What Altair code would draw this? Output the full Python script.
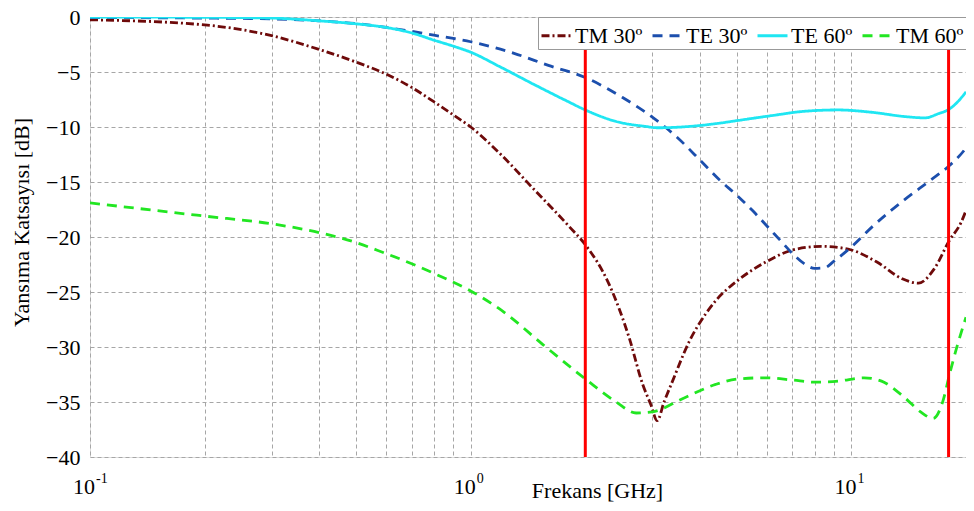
import altair as alt
import pandas as pd

# ---- data ----
series_names = ["TM 30º", "TE 30º", "TE 60º", "TM 60º"]
series_colors = ["#6e0a0a", "#1c4fad", "#1fe6f2", "#22e622"]
series_dashes = [[8, 3, 2, 3], [10, 7], [1, 0], [10, 7]]

tm30_f = [0.1, 0.2, 0.3, 0.4, 0.5, 0.6, 0.7, 0.8, 0.9, 1.0, 1.2, 1.46, 1.82, 2.0,
          2.31, 2.61, 2.83, 2.97, 3.09, 3.22, 3.39, 3.75, 4.14, 4.4, 5.05, 5.94, 6.98,
          8.36, 9.8, 11.7, 13.6, 15.0, 16.5, 18.1, 19.4, 20.0]
tm30_db = [-0.25, -0.72, -1.7, -2.95, -4.1, -5.2, -6.4, -7.7, -8.9, -10.0, -12.5, -15.6,
           -19.1, -20.7, -24.3, -29.2, -33.4, -35.2, -36.7, -35.0, -33.1, -29.5, -27.0, -25.8,
           -23.9, -22.3, -21.2, -20.85, -21.1, -22.3, -23.8, -24.2, -22.9, -20.3, -18.7, -17.6]

te30_f = [0.1, 0.2, 0.3, 0.4, 0.5, 0.6, 0.7, 0.8, 0.9, 1.0, 1.3, 1.6, 2.0, 2.5, 3.0, 3.5,
          4.0, 4.5, 5.0, 5.5, 6.0, 6.5, 7.0, 7.5, 8.0, 8.5, 9.0, 10.0, 11.4, 13.8, 16.2, 18.1,
          19.8, 20.0]
te30_db = [-0.05, -0.1, -0.18, -0.35, -0.6, -0.95, -1.3, -1.65, -1.95, -2.25, -3.3, -4.4,
           -5.5, -7.3, -9.1, -11.0, -13.0, -14.8, -16.2, -17.6, -19.0, -20.3, -21.5, -22.4,
           -22.85, -22.8, -22.2, -20.9, -19.0, -16.6, -14.8, -13.5, -12.1, -11.9]

te60_f = [0.1, 0.2, 0.3, 0.4, 0.5, 0.6, 0.7, 0.8, 0.9, 1.0, 1.19, 1.46, 1.78, 2.0, 2.41, 2.88,
          3.1, 3.75, 4.4, 5.05, 6.19, 7.54, 9.23, 11.3, 13.8, 15.6, 16.9, 18.1, 19.8, 20.0]
te60_db = [0.0, -0.03, -0.1, -0.35, -0.62, -0.95, -1.45, -2.1, -2.65, -3.2, -4.5, -6.1, -7.6,
           -8.45, -9.5, -9.95, -10.07, -9.95, -9.7, -9.4, -8.96, -8.57, -8.45, -8.66, -9.05,
           -9.17, -8.8, -8.36, -7.0, -6.8]

tm60_f = [0.1, 0.2, 0.3, 0.4, 0.5, 0.568, 0.708, 0.8, 1.0, 1.22, 1.55, 2.0, 2.41, 2.72, 3.0,
          3.6, 4.4, 5.05, 5.94, 6.98, 8.03, 9.23, 10.8, 12.0, 13.8, 15.2, 16.4, 17.4, 18.1,
          19.0, 20.0]
tm60_db = [-16.9, -18.1, -18.8, -19.6, -20.5, -21.2, -22.5, -23.3, -24.9, -26.8, -29.8, -32.9,
           -35.0, -36.0, -35.9, -34.7, -33.4, -32.9, -32.8, -33.0, -33.2, -33.1, -32.8, -33.1,
           -34.6, -35.9, -36.5, -34.9, -32.5, -29.8, -27.3]

band_edges = [2.0, 18.0]

x_grid = [0.1, 0.2, 0.3, 0.4, 0.5, 0.6, 0.7, 0.8, 0.9,
          1, 2, 3, 4, 5, 6, 7, 8, 9, 10, 20]
x_label_pos = [0.1, 1, 10]
x_label_base = ["10", "10", "10"]
x_label_exp = ["-1", "0", "1"]
y_ticks = [-40, -35, -30, -25, -20, -15, -10, -5, 0]

# ---- build tables ----
rows = []
for name, fs, vs in zip(series_names,
                        [tm30_f, te30_f, te60_f, tm60_f],
                        [tm30_db, te30_db, te60_db, tm60_db]):
    for i, (f, v) in enumerate(zip(fs, vs)):
        rows.append({"series": name, "f": f, "db": v, "i": i})
df = pd.DataFrame(rows)
rules = pd.DataFrame({"f": band_edges})
labels_df = pd.DataFrame({"f": x_label_pos, "base": x_label_base, "exp": x_label_exp})

FONT = "Liberation Serif"
GRID = "#a6a6a6"
W, H = 876, 440

xscale = alt.Scale(type="log", domain=[0.1, 20], nice=False)

x_axis = alt.Axis(
    values=x_grid, labels=False,
    grid=True, gridDash=[4, 3], gridColor=GRID, gridWidth=1,
    ticks=False, tickSize=0, domain=False,
    title="Frekans [GHz]", titleFont=FONT, titleFontSize=22, titleFontWeight="normal",
    titleColor="black", titleX=507, titleY=40, titleBaseline="alphabetic", titleAlign="center",
)
y_axis = alt.Axis(
    values=y_ticks,
    grid=True, gridDash=[4, 3], gridColor=GRID, gridWidth=1,
    ticks=False, tickSize=0, domain=False,
    labelFont=FONT, labelFontSize=22, labelColor="black", labelPadding=10,
    labelFlush=False, labelOverlap=False,
    title="Yansıma Katsayısı [dB]", titleFont=FONT, titleFontSize=22, titleFontWeight="normal",
    titleColor="black", titleX=-62, titleY=205, titleBaseline="alphabetic", titleAlign="center",
    titleAngle=270,
)

legend = alt.Legend(
    orient="top-right", direction="horizontal", columns=4, title=None,
    labelFont=FONT, labelFontSize=22, labelColor="black", labelOffset=2,
    symbolType="stroke", symbolSize=900, symbolStrokeWidth=3,
    fillColor="white", strokeColor="#999999", padding=2, offset=0,
    columnPadding=3, labelLimit=200,
)

lines = alt.Chart(df).mark_line(strokeWidth=2.8, interpolate="monotone", clip=True).encode(
    x=alt.X("f:Q", scale=xscale, axis=x_axis),
    y=alt.Y("db:Q", scale=alt.Scale(domain=[-40, 0], nice=False), axis=y_axis),
    color=alt.Color("series:N", scale=alt.Scale(domain=series_names, range=series_colors),
                    legend=legend),
    strokeDash=alt.StrokeDash("series:N", scale=alt.Scale(domain=series_names, range=series_dashes),
                              legend=legend),
    order="i:Q",
)

red = alt.Chart(rules).mark_rule(color="#ff0000", strokeWidth=3).encode(x=alt.X("f:Q", scale=xscale))

base_lbl = alt.Chart(labels_df).mark_text(
    align="right", baseline="alphabetic", dx=5, font=FONT, fontSize=22, color="black"
).encode(x=alt.X("f:Q", scale=xscale), y=alt.value(H + 37), text="base:N")

exp_lbl = alt.Chart(labels_df).mark_text(
    align="left", baseline="alphabetic", dx=6, font=FONT, fontSize=14, color="black"
).encode(x=alt.X("f:Q", scale=xscale), y=alt.value(H + 26), text="exp:N")

chart = alt.layer(lines, red, base_lbl, exp_lbl).properties(
    width=W, height=H,
    autosize=alt.AutoSizeParams(type="none"),
    padding={"left": 82, "top": 9, "right": 0, "bottom": 46},
).configure_view(stroke="#8c8c8c", strokeWidth=1.5).configure(background="white")

chart.save("out.html", embed_options={"renderer": "svg", "actions": False})
